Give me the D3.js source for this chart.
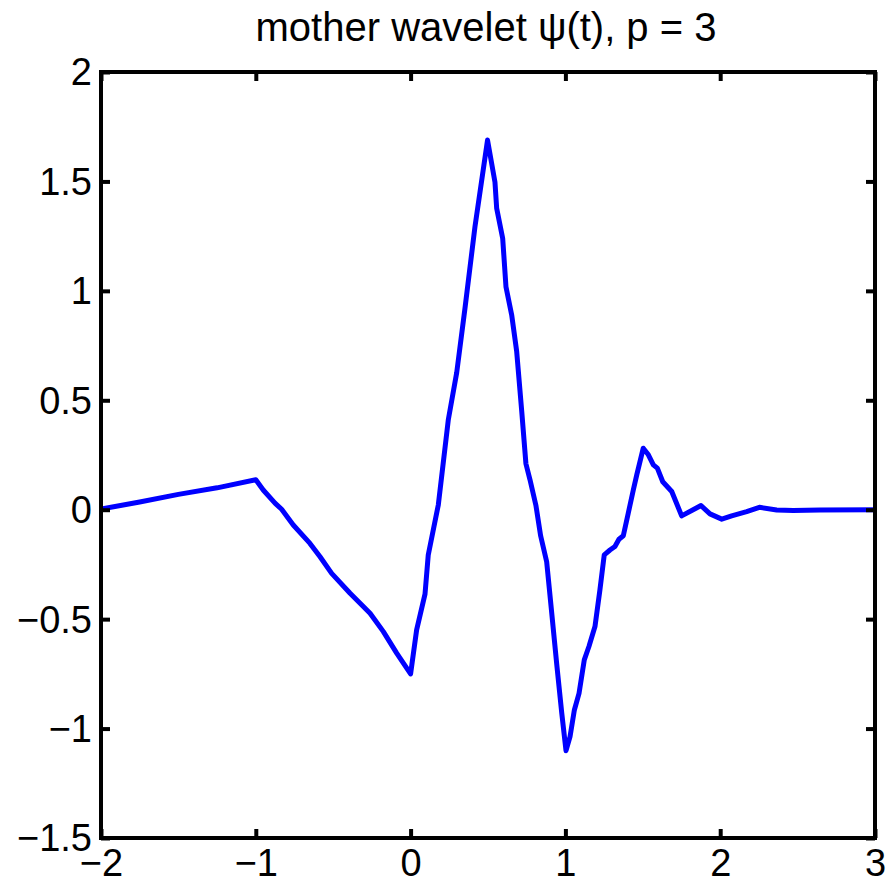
<!DOCTYPE html>
<html>
<head>
<meta charset="utf-8">
<script src="https://cdn.jsdelivr.net/npm/d3@7/dist/d3.min.js"></script>
<style>
  html, body { margin: 0; padding: 0; background: #ffffff; }
  svg { display: block; }
  text { font-family: "Liberation Sans", Arial, Helvetica, sans-serif; fill: #000; }
</style>
</head>
<body>
<script>
// ---- data ----
const titleText = "mother wavelet \u03C8(t), p = 3";
const xTicks = [-2, -1, 0, 1, 2, 3];
const yTicks = [-1.5, -1, -0.5, 0, 0.5, 1, 1.5, 2];
const xTickLabels = ["\u22122", "\u22121", "0", "1", "2", "3"];
const yTickLabels = ["\u22121.5", "\u22121", "\u22120.5", "0", "0.5", "1", "1.5", "2"];

const tValues = [-2, -1.75, -1.5, -1.25, -1.0, -0.952, -0.876, -0.833, -0.758, -0.650,
  -0.585, -0.510, -0.391, -0.262, -0.176, -0.090, 0.0, 0.039, 0.093, 0.114,
  0.179, 0.244, 0.298, 0.351, 0.416, 0.497, 0.545, 0.556, 0.595, 0.616,
  0.653, 0.685, 0.718, 0.745, 0.771, 0.810, 0.840, 0.879, 0.911, 0.944,
  0.976, 1.004, 1.030, 1.058, 1.088, 1.122, 1.152, 1.191, 1.223, 1.251,
  1.288, 1.320, 1.346, 1.374, 1.406, 1.439, 1.461, 1.503, 1.536, 1.568,
  1.594, 1.629, 1.687, 1.751, 1.816, 1.876, 1.934, 2.010, 2.074, 2.171,
  2.253, 2.365, 2.472, 2.645, 3.0];
const psiValues = [0.003, 0.035, 0.07, 0.10, 0.137, 0.090, 0.030, 0.002, -0.070, -0.154,
  -0.215, -0.291, -0.382, -0.473, -0.557, -0.655, -0.75, -0.549, -0.386, -0.207,
  0.022, 0.413, 0.627, 0.919, 1.294, 1.689, 1.497, 1.377, 1.239, 1.019,
  0.890, 0.725, 0.449, 0.210, 0.138, 0.018, -0.119, -0.238, -0.467, -0.706,
  -0.927, -1.101, -1.037, -0.915, -0.839, -0.686, -0.625, -0.534, -0.366, -0.206,
  -0.184, -0.168, -0.135, -0.119, -0.016, 0.091, 0.159, 0.281, 0.251, 0.205,
  0.190, 0.128, 0.083, -0.028, -0.004, 0.019, -0.019, -0.043, -0.028, -0.009,
  0.011, -0.001, -0.004, -0.001, 0.0];

// ---- layout ----
const W = 888, H = 885;
const plot = { left: 101, right: 875, top: 72, bottom: 838 };
const fontSize = 38;
const tickLen = 9;

const svg = d3.select("body").append("svg").attr("width", W).attr("height", H);

const x = d3.scaleLinear().domain([-2, 3]).range([plot.left, plot.right]);
const y = d3.scaleLinear().domain([-1.5, 2]).range([plot.bottom, plot.top]);

const data = tValues.map((t, i) => ({ t, v: psiValues[i] }));

// clip
svg.append("clipPath").attr("id", "clip").append("rect")
  .attr("x", plot.left).attr("y", plot.top)
  .attr("width", plot.right - plot.left).attr("height", plot.bottom - plot.top);

// curve
const line = d3.line().x(d => x(d.t)).y(d => y(d.v));
svg.append("path").datum(data)
  .attr("clip-path", "url(#clip)")
  .attr("d", line)
  .attr("fill", "none")
  .attr("stroke", "#0000ff")
  .attr("stroke-width", 5)
  .attr("stroke-linejoin", "round")
  .attr("stroke-linecap", "round");

// axes via d3 axis generators (inward ticks, box)
const axStyle = g => {
  g.select(".domain").remove();
  g.selectAll(".tick line").attr("stroke", "#000").attr("stroke-width", 4);
};
svg.append("g").attr("transform", `translate(0,${plot.bottom})`)
  .call(d3.axisBottom(x).tickValues(xTicks).tickSize(-tickLen).tickFormat((d, i) => xTickLabels[i]))
  .call(axStyle)
  .call(g => g.selectAll(".tick text").attr("y", 11).attr("dy", "0.71em")
      .attr("font-size", fontSize).attr("font-family", "Liberation Sans, Arial, sans-serif").attr("fill", "#000"));
svg.append("g").attr("transform", `translate(0,${plot.top})`)
  .call(d3.axisTop(x).tickValues(xTicks).tickSize(-tickLen).tickFormat(""))
  .call(axStyle);
svg.append("g").attr("transform", `translate(${plot.left},0)`)
  .call(d3.axisLeft(y).tickValues(yTicks).tickSize(-tickLen).tickFormat((d, i) => yTickLabels[i]))
  .call(axStyle)
  .call(g => g.selectAll(".tick text").attr("x", -9).attr("dy", "0.34em")
      .attr("font-size", fontSize).attr("font-family", "Liberation Sans, Arial, sans-serif").attr("fill", "#000"));
svg.append("g").attr("transform", `translate(${plot.right},0)`)
  .call(d3.axisRight(y).tickValues(yTicks).tickSize(-tickLen).tickFormat(""))
  .call(axStyle);

// frame
svg.append("rect")
  .attr("x", plot.left).attr("y", plot.top)
  .attr("width", plot.right - plot.left).attr("height", plot.bottom - plot.top)
  .attr("fill", "none").attr("stroke", "#000").attr("stroke-width", 4);

// title
svg.append("text")
  .attr("x", (plot.left + plot.right) / 2 - 2).attr("y", 41)
  .attr("text-anchor", "middle")
  .attr("font-size", 40)
  .text(titleText);
</script>
</body>
</html>
